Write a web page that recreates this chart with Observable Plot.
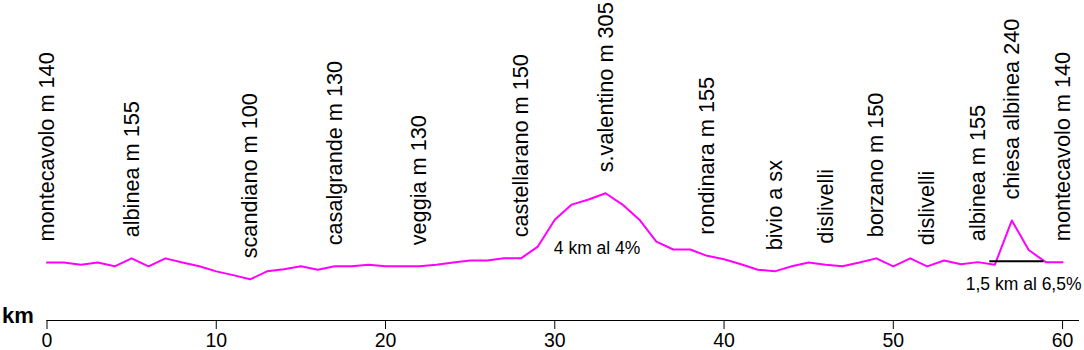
<!DOCTYPE html>
<html>
<head>
<meta charset="utf-8">
<script src="https://cdn.jsdelivr.net/npm/d3@7"></script>
<script src="https://cdn.jsdelivr.net/npm/@observablehq/plot@0.6"></script>
<style>
  html, body { margin: 0; padding: 0; background: #fff; }
</style>
</head>
<body>
<div id="chart"></div>
<script>
// distance along the route (km)
const km = [0,1,2,3,4,5,6,7,8,9,10,11,12,13,14,15,16,17,18,19,20,21,22,23,24,25,26,27,28,29,30,
            31,32,33,34,35,36,37,38,39,40,41,42,43,44,45,46,47,48,49,50,51,52,53,54,55,56,57,58,59,60];
// elevation (m)
const elevation = [138,138,133,138,129,148,129,148,138,129,117,108,98,117,122,129,121,129,129,133,
                   129,129,129,133,138,143,143,148,148,176,240,276,288,303,276,240,188,169,169,154,
                   146,134,121,117,129,138,133,129,138,148,129,148,129,143,134,139,133,238,168,139,139];

// place labels
const placeKm = [0,5,12,17,22,28,33,39,43,46,49,52,55,57,60];
const placeNames = ["montecavolo m 140","albinea m 155","scandiano m 100","casalgrande m 130",
                    "veggia m 130","castellarano m 150","s.valentino m 305","rondinara m 155",
                    "bivio a sx","dislivelli","borzano m 150","dislivelli","albinea m 155",
                    "chiesa albinea 240","montecavolo m 140"];

// climb notes
const noteText = ["4 km al 4%", "1,5 km al 6,5%"];
const noteKm = [32.5, 57.7];
const noteElev = [171, 87];

// the 1,5 km climb marker
const climbStart = 55.7, climbEnd = 58.9, climbElev = 141;

const xTicks = [0,10,20,30,40,50,60];

const profile = km.map((k, i) => ({km: k, m: elevation[i]}));
const places = placeKm.map((k, i) => ({km: k, m: elevation[km.indexOf(k)], name: placeNames[i]}));
const notes = noteText.map((t, i) => ({km: noteKm[i], m: noteElev[i], text: t}));

const chart = Plot.plot({
  width: 1084,
  height: 350,
  marginLeft: 46.5,
  marginRight: 5,
  marginTop: 0,
  marginBottom: 30,
  x: {domain: [0, 61]},
  y: {domain: [0, 762], axis: null},
  style: {fontFamily: "'Liberation Sans', Arial, sans-serif", background: "white", color: "black"},
  marks: [
    Plot.ruleY([0], {stroke: "black", strokeWidth: 1}),
    Plot.axisX({ticks: xTicks, tickSize: 9, tickPadding: 4, fontSize: 19.5, label: null, tickFormat: d => String(d)}),
    Plot.line(profile, {x: "km", y: "m", stroke: "#ff00ff", strokeWidth: 2}),
    Plot.ruleY([climbElev], {x1: climbStart, x2: climbEnd, stroke: "black", strokeWidth: 2}),
    Plot.text(places, {x: "km", y: "m", text: "name", rotate: -90, textAnchor: "start", lineAnchor: "middle",
                       dy: -21, fontSize: 21.7, fill: "black"}),
    Plot.text(notes, {x: "km", y: "m", text: "text", textAnchor: "middle", lineAnchor: "middle",
                      fontSize: 17.5, fill: "black"}),
    Plot.text(["km"], {frameAnchor: "bottom-left", dx: -45, dy: 2, textAnchor: "start", lineAnchor: "bottom",
                       fontSize: 22, fontWeight: "bold", fill: "black"})
  ]
});
document.getElementById("chart").appendChild(chart);
</script>
</body>
</html>
